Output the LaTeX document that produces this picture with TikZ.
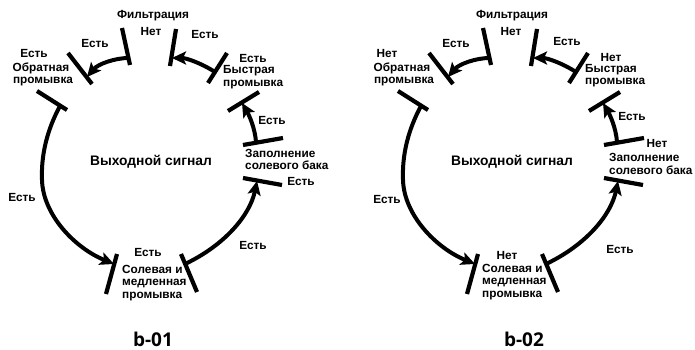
\documentclass[tikz,border=0pt]{standalone}
\usepackage{fontspec}
\setmainfont{Liberation Sans}
\newfontfamily\titlefont{Open Sans}
\usetikzlibrary{arrows.meta}
\tikzset{
  bar/.style={line width=4.2pt},
  flow/.style={line width=4pt,-{Stealth[length=14pt,width=13pt,inset=3pt]}},
  lbl/.style={font=\bfseries\fontsize{11.8}{13}\selectfont,inner sep=0pt},
  mainlbl/.style={font=\bfseries\fontsize{13.8}{16}\selectfont,inner sep=0pt},
  ttl/.style={font=\titlefont\bfseries\fontsize{19}{22}\selectfont,inner sep=0pt},
}
\newcommand\drawcycle[1]{%
  % bars
  \coordinate (#1fAa) at (122,28);  \coordinate (#1fAb) at (130,65);
  \coordinate (#1fBa) at (176,29);  \coordinate (#1fBb) at (170,66);
  \coordinate (#1bwUa) at (68,53);  \coordinate (#1bwUb) at (92,84);
  \coordinate (#1bwLa) at (37,91);  \coordinate (#1bwLb) at (67,110);
  \coordinate (#1fra) at (227,53);  \coordinate (#1frb) at (208,83);
  \coordinate (#1bfTa) at (228,111); \coordinate (#1bfTb) at (259,92);
  \coordinate (#1bfUa) at (243,145); \coordinate (#1bfUb) at (283,138);
  \coordinate (#1bfLa) at (243,178); \coordinate (#1bfLb) at (282,185);
  \coordinate (#1srLa) at (117,254); \coordinate (#1srLb) at (106,294);
  \coordinate (#1srRa) at (181,254); \coordinate (#1srRb) at (197,292);
  \foreach \b in {fA,fB,bwU,bwL,fr,bfT,bfU,bfL,srL,srR}
    \draw[bar] (#1\b a) -- (#1\b b);
  % arrow ends
  \coordinate (#1As) at (128.5,58); \coordinate (#1Ae) at (87,77);
  \coordinate (#1Bs) at (215,72);   \coordinate (#1Be) at (172,58);
  \coordinate (#1Cs) at (256,142);  \coordinate (#1Ce) at (242,103);
  \coordinate (#1Ds) at (60,106);   \coordinate (#1Dm) at (42,180); \coordinate (#1De) at (114,264);
  \coordinate (#1Es) at (185,264);  \coordinate (#1Ee) at (257,181);
  \draw[flow] (#1As) .. controls (115,58) and (98,64) .. (#1Ae);
  \draw[flow] (#1Bs) .. controls (201,63) and (186,58) .. (#1Be);
  \draw[flow] (#1Cs) .. controls (255,128) and (249,115) .. (#1Ce);
  \draw[flow] (#1Ds) .. controls (47,130) and (41,155) .. (#1Dm)
                     .. controls (43,215) and (75,248) .. (#1De);
  \draw[flow] (#1Es) .. controls (225,245) and (250,215) .. (#1Ee);
}
\begin{document}
\begin{tikzpicture}[x=1pt,y=-1pt]
\path[use as bounding box] (0,0) rectangle (695,350);
\begin{scope}
  \drawcycle{L}
\end{scope}
\begin{scope}[xshift=361pt]
  \drawcycle{R}
\end{scope}
% ---- left labels
\node[lbl] (Lfil) at (153,16) {Фильтрация};
\node[lbl] (Lfilst) at (151,32) {Нет};
\node[lbl] (LAl) at (95,43) {Есть};
\node[lbl] (Lbwst) at (34,53) {Есть};
\node[lbl] (Lbw1) at (41,68) {Обратная};
\node[lbl] (Lbw2) at (43,82) {промывка};
\node[lbl] (LBl) at (205,35) {Есть};
\node[lbl] (Lfrst) at (253,58) {Есть};
\node[lbl,anchor=west] (Lfr1) at (223,71) {Быстрая};
\node[lbl,anchor=west] (Lfr2) at (223,85) {промывка};
\node[lbl] (LCl) at (272,120) {Есть};
\node[lbl,anchor=west] (Lbf1) at (245,153) {Заполнение};
\node[lbl,anchor=west] (Lbf2) at (245,165) {солевого бака};
\node[lbl] (Lbfst) at (301,181) {Есть};
\node[mainlbl] (Lout) at (151,162) {Выходной сигнал};
\node[lbl] (LDl) at (22,197) {Есть};
\node[lbl] (Lsrst) at (148,252) {Есть};
\node[lbl,anchor=west] (Lsr1) at (122,269) {Солевая и};
\node[lbl,anchor=west] (Lsr2) at (122,283) {медленная};
\node[lbl,anchor=west] (Lsr3) at (122,297) {промывка};
\node[lbl] (LEl) at (253,245) {Есть};
\node[ttl] (Lttl) at (153,339) {b-01};
% ---- right labels
\node[lbl] (Rfil) at (512,16) {Фильтрация};
\node[lbl] (Rfilst) at (511,32) {Нет};
\node[lbl] (RAl) at (456,43) {Есть};
\node[lbl] (Rbwst) at (387,53) {Нет};
\node[lbl] (Rbw1) at (402,68) {Обратная};
\node[lbl] (Rbw2) at (404,82) {промывка};
\node[lbl] (RBl) at (567,41) {Есть};
\node[lbl] (Rfrst) at (611,57) {Нет};
\node[lbl,anchor=west] (Rfr1) at (585,70) {Быстрая};
\node[lbl,anchor=west] (Rfr2) at (585,83) {промывка};
\node[lbl] (RCl) at (632,116) {Есть};
\node[lbl] (Rbfst) at (657,143) {Нет};
\node[lbl,anchor=west] (Rbf1) at (609,157) {Заполнение};
\node[lbl,anchor=west] (Rbf2) at (609,170) {солевого бака};
\node[mainlbl] (Rout) at (512,162) {Выходной сигнал};
\node[lbl] (RDl) at (387,199) {Есть};
\node[lbl] (Rsrst) at (507,255) {Нет};
\node[lbl,anchor=west] (Rsr1) at (482,268) {Солевая и};
\node[lbl,anchor=west] (Rsr2) at (482,282) {медленная};
\node[lbl,anchor=west] (Rsr3) at (482,296) {промывка};
\node[lbl] (REl) at (620,249) {Есть};
\node[ttl] (Rttl) at (524,339) {b-02};
\end{tikzpicture}
\end{document}
